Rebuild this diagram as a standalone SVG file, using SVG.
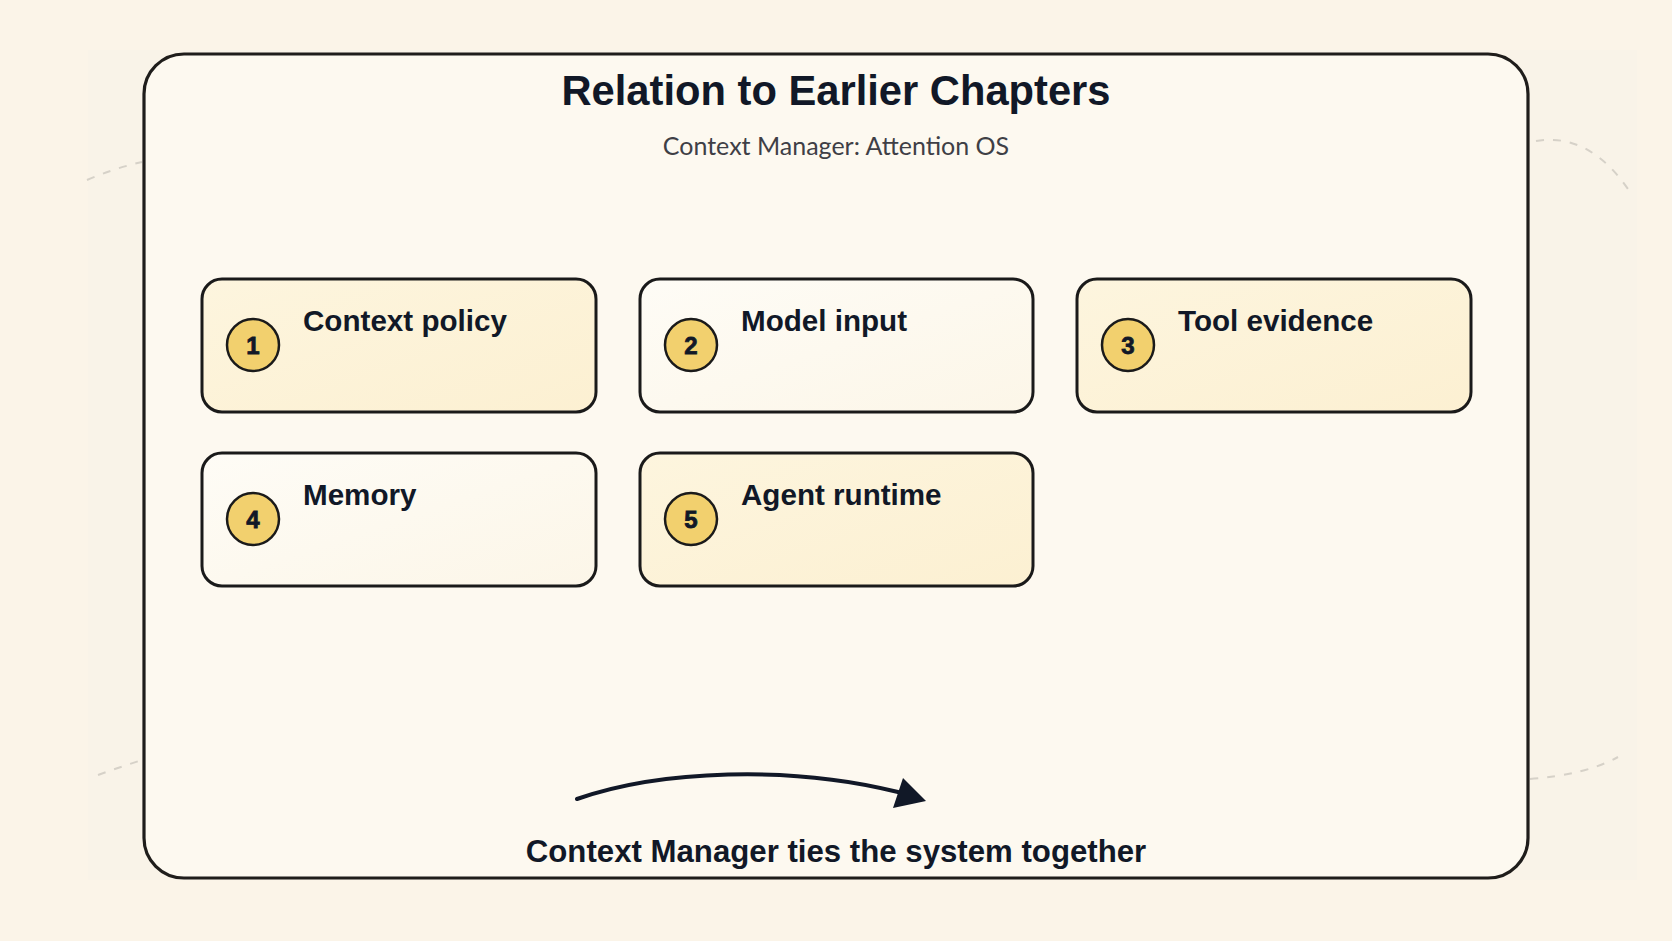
<svg xmlns="http://www.w3.org/2000/svg" width="1672" height="941" viewBox="0 0 1672 941">
  <defs>
    <linearGradient id="gYellow" x1="0" y1="0" x2="1" y2="1">
      <stop offset="0" stop-color="#FDF5DE"/>
      <stop offset="1" stop-color="#FCF0D2"/>
    </linearGradient>
    <linearGradient id="gWhite" x1="0" y1="0" x2="1" y2="1">
      <stop offset="0" stop-color="#FEFCF6"/>
      <stop offset="1" stop-color="#FCF6E8"/>
    </linearGradient>
    <style>
      .frame { fill: #FDF9F0; stroke: #1F1D1B; stroke-width: 3.2; }
      .box { stroke: #1A1A1A; stroke-width: 3; }
      .yellow { fill: url(#gYellow); }
      .white { fill: url(#gWhite); }
      .badge { fill: #F2D06E; stroke: #1A1A1A; stroke-width: 2.5; }
      .num { font-family: "Liberation Sans", Arial, sans-serif; font-weight: 700; font-size: 24px; fill: #111827; stroke: #111827; stroke-width: 0.8; text-anchor: middle; }
      .label { font-family: "Liberation Sans", Arial, sans-serif; font-weight: 700; font-size: 29.6px; fill: #111827; }
      .title { font-family: "Liberation Sans", Arial, sans-serif; font-weight: 700; font-size: 41.7px; fill: #111827; text-anchor: middle; }
      .subtitle { font-family: "Lato", "Liberation Sans", sans-serif; font-size: 25px; fill: #3F3F46; text-anchor: middle; }
      .caption { font-family: "Liberation Sans", Arial, sans-serif; font-weight: 700; font-size: 31.2px; fill: #111827; text-anchor: middle; }
      .deco { fill: none; stroke: #D6D1C8; stroke-width: 2; stroke-dasharray: 8 9; }
      .conn { fill: none; stroke: #111827; stroke-width: 4; stroke-linecap: round; }
    </style>
  </defs>

  <rect x="0" y="0" width="1672" height="941" fill="#FBF4E8"/>
  <rect x="88" y="50" width="1549" height="830" fill="#F9F3E8"/>

  <g id="decorations">
    <path class="deco" d="M87,180 Q115,168 142,162"/>
    <path class="deco" d="M1536,141 Q1590,132 1630,192"/>
    <path class="deco" d="M98,775 Q120,767 142,760"/>
    <path class="deco" d="M1530,779 Q1585,775 1618,757"/>
  </g>

  <g id="frame">
    <rect class="frame" x="144" y="54" width="1384" height="824" rx="40" ry="40"/>
    <text class="title" x="836" y="105">Relation to Earlier Chapters</text>
    <text class="subtitle" x="836" y="155">Context Manager: Attention OS</text>
  </g>

  <g id="node1">
    <rect class="box yellow" x="202" y="279" width="394" height="133" rx="20" ry="20"/>
    <circle class="badge" cx="253" cy="345" r="26"/>
    <text class="num" x="253" y="354">1</text>
    <text class="label" x="303" y="331">Context policy</text>
  </g>
  <g id="node2">
    <rect class="box white" x="640" y="279" width="393" height="133" rx="20" ry="20"/>
    <circle class="badge" cx="691" cy="345" r="26"/>
    <text class="num" x="691" y="354">2</text>
    <text class="label" x="741" y="331">Model input</text>
  </g>
  <g id="node3">
    <rect class="box yellow" x="1077" y="279" width="394" height="133" rx="20" ry="20"/>
    <circle class="badge" cx="1128" cy="345" r="26"/>
    <text class="num" x="1128" y="354">3</text>
    <text class="label" x="1178" y="331">Tool evidence</text>
  </g>
  <g id="node4">
    <rect class="box white" x="202" y="453" width="394" height="133" rx="20" ry="20"/>
    <circle class="badge" cx="253" cy="519" r="26"/>
    <text class="num" x="253" y="528">4</text>
    <text class="label" x="303" y="505">Memory</text>
  </g>
  <g id="node5">
    <rect class="box yellow" x="640" y="453" width="393" height="133" rx="20" ry="20"/>
    <circle class="badge" cx="691" cy="519" r="26"/>
    <text class="num" x="691" y="528">5</text>
    <text class="label" x="741" y="505">Agent runtime</text>
  </g>

  <g id="connectors">
    <path class="conn" d="M577,799 C660,770 790,765 898,792"/>
    <polygon points="926,801 893,808 903,778" fill="#111827"/>
  </g>

  <text class="caption" x="836" y="862">Context Manager ties the system together</text>
</svg>
